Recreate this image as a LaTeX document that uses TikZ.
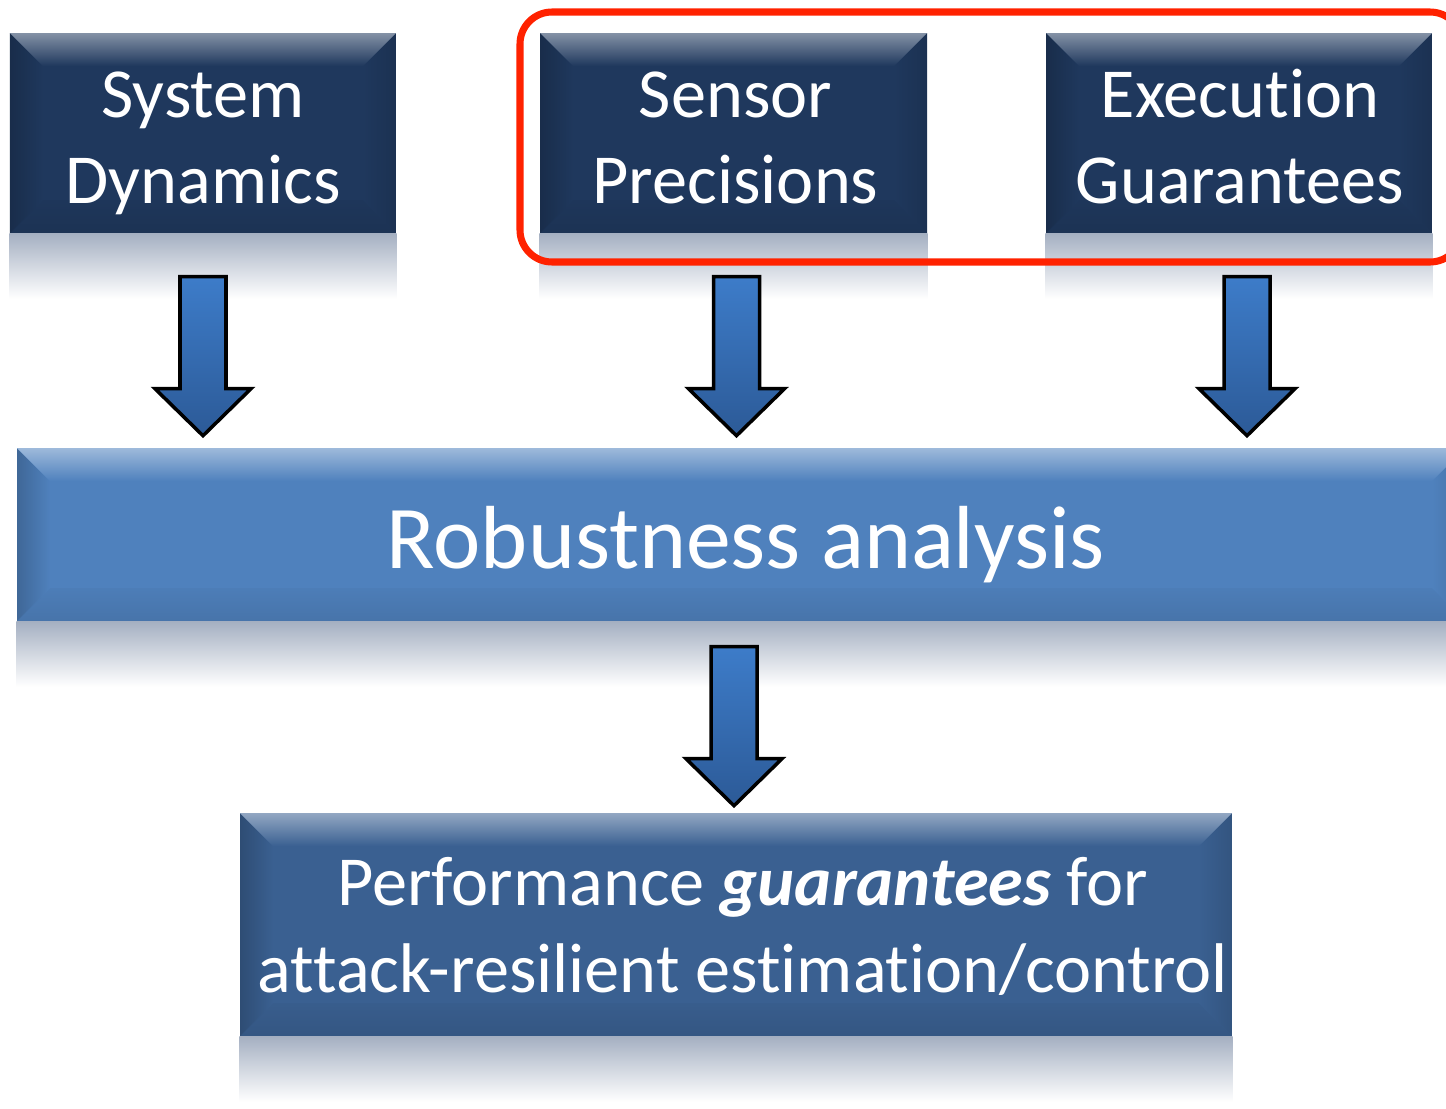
\documentclass[tikz,border=0pt]{standalone}
\usepackage{fontspec}
\setmainfont[Ligatures=NoCommon]{Carlito}
\usetikzlibrary{calc}
\definecolor{navy}{RGB}{31,56,93}
\definecolor{robblue}{RGB}{79,129,189}
\definecolor{perfblue}{RGB}{58,96,145}
\definecolor{arrtop}{RGB}{61,124,201}
\definecolor{arrbot}{RGB}{44,90,151}
\definecolor{redframe}{RGB}{255,34,0}
\definecolor{refl}{RGB}{165,176,194}
\tikzset{
  bevelbox/.style={fill=#1, text=white, align=center, inner sep=0pt,
    path picture={
      \coordinate (ppnw) at (path picture bounding box.north west);
      \coordinate (ppne) at (path picture bounding box.north east);
      \coordinate (ppsw) at (path picture bounding box.south west);
      \coordinate (ppse) at (path picture bounding box.south east);
      \shade[top color=#1!97!black, bottom color=#1!90!black] (ppsw) -- (ppse) -- ($(ppse)+(-0.33,0.33)$) -- ($(ppsw)+(0.33,0.33)$) -- cycle;
      \shade[left color=#1!80!black, right color=#1] (ppnw) -- ($(ppnw)+(0.33,-0.33)$) -- ($(ppsw)+(0.33,0.33)$) -- (ppsw) -- cycle;
      \shade[right color=#1!88!black, left color=#1] (ppne) -- ($(ppne)+(-0.33,-0.33)$) -- ($(ppse)+(-0.33,0.33)$) -- (ppse) -- cycle;
      \shade[top color=#1!55!white, bottom color=#1] (ppnw) -- (ppne) -- ($(ppne)+(-0.33,-0.33)$) -- ($(ppnw)+(0.33,-0.33)$) -- cycle;
    }},
  topbox/.style={bevelbox=navy, minimum width=3.86cm, minimum height=2.0cm},
  boxtext/.style={text=white, align=center, inner sep=0pt},
  toptext/.style={boxtext, font=\fontsize{20}{24.6}\selectfont},
  blockarr/.style={top color=arrtop, bottom color=arrbot, draw=black, line width=1pt, line join=miter},
  reflection/.style={top color=refl, bottom color=white, draw=none},
}
\newcommand\blockarrow[1]{\draw[blockarr] (#1) ++(-0.23,0) -- ++(0.46,0) -- ++(0,-1.12) -- ++(0.25,0) -- ++(-0.48,-0.47) -- ++(-0.48,0.47) -- ++(0.25,0) -- cycle;}
\begin{document}
\begin{tikzpicture}
\useasboundingbox (0,0) rectangle (14.46,-11.08);
\clip (0,0) rectangle (14.46,-11.08);

% boxes
\node[topbox] (sd) at (2.03,-1.33) {};
\node[topbox, minimum width=3.87cm] (sp) at (7.335,-1.33) {};
\node[topbox] (eg) at (12.39,-1.33) {};
\node[bevelbox=robblue, minimum width=14.48cm, minimum height=1.73cm] (ra) at (7.41,-5.345) {};
\node[bevelbox=perfblue, minimum width=9.92cm, minimum height=2.23cm] (pg) at (7.36,-9.245) {};

% texts
\node[toptext] (sdt) at ($(sd.center)+(0,-0.10)$) {System\strut\\Dynamics\strut};
\node[toptext] (spt) at ($(sp.center)+(0.02,-0.10)$) {Sensor\strut\\Precisions\strut};
\node[toptext] (egt) at ($(eg.center)+(0.01,-0.10)$) {Execution\strut\\Guarantees\strut};
\node[boxtext, font=\fontsize{25.5}{30}\selectfont] (rat) at ($(ra.center)+(0.05,-0.1)$) {Robustness analysis};
\node[boxtext, font=\fontsize{20}{24.6}\selectfont] (pgt) at ($(pg.center)+(0.07,-0.07)$)
  {Performance \textbf{\textit{guarantees}} for\strut\\attack-resilient estimation/control\strut};

% reflections
\foreach \b in {sd,sp,eg,ra,pg}
  \shade[reflection] (\b.south west) rectangle ($(\b.south east)+(0,-0.65)$);

% red frame
\draw[redframe, line width=2pt, rounded corners=0.32cm] (5.20,-0.12) rectangle (14.62,-2.62);

% arrows
\coordinate (a1) at ($(sd.south)+(0,-0.43)$);
\coordinate (a2) at ($(sp.south)+(0.03,-0.43)$);
\coordinate (a3) at ($(eg.south)+(0.08,-0.43)$);
\coordinate (a4) at ($(ra.south -| pg.north)+(-0.02,-0.25)$);
\blockarrow{a1}
\blockarrow{a2}
\blockarrow{a3}
\blockarrow{a4}
\end{tikzpicture}
\end{document}
